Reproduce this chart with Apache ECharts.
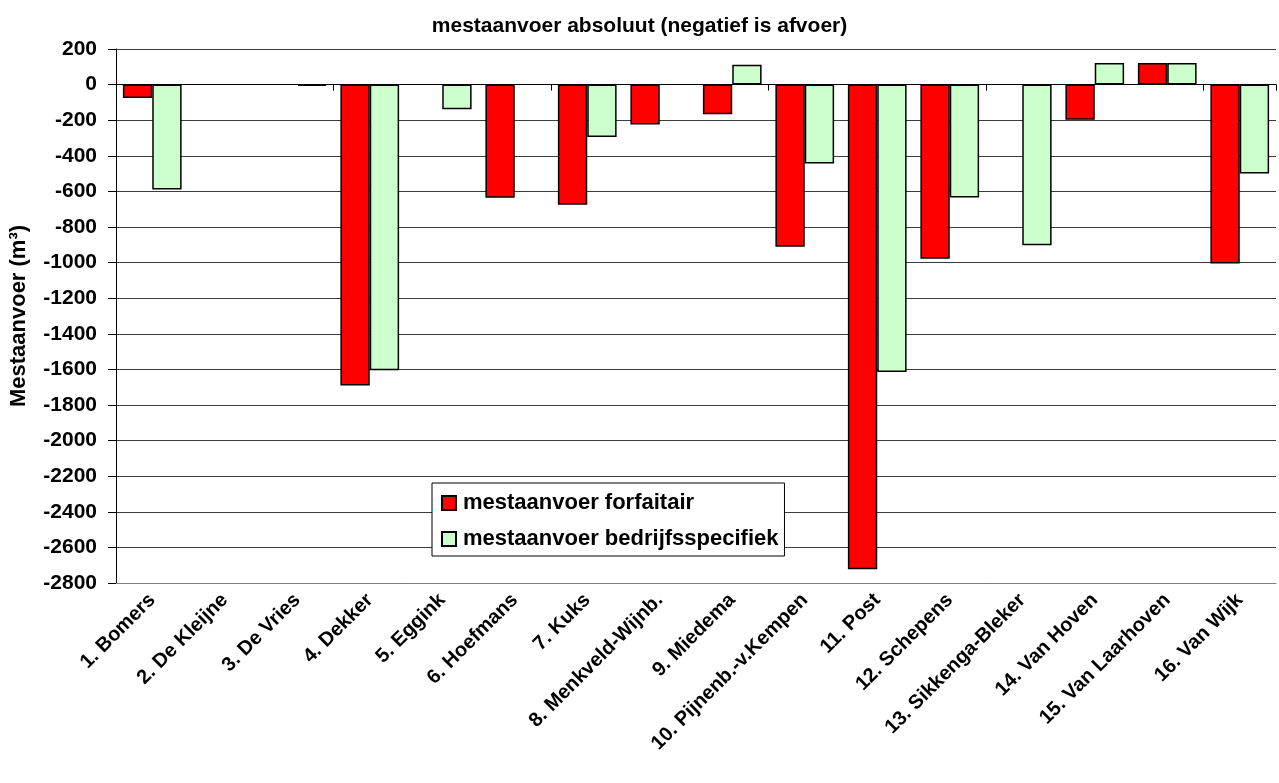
<!DOCTYPE html>
<html>
<head>
<meta charset="utf-8">
<script src="https://cdn.jsdelivr.net/npm/echarts@6/dist/echarts.min.js"></script>
<style>
  html, body { margin: 0; padding: 0; background: #fff; }
  #chart { width: 1279px; height: 783px; }
</style>
</head>
<body>
<div id="chart"></div>
<script>
  // bedrijven
  var categories = ['1. Bomers', '2. De Kleijne', '3. De Vries', '4. Dekker', '5. Eggink',
    '6. Hoefmans', '7. Kuks', '8. Menkveld-Wijnb.', '9. Miedema', '10. Pijnenb.-v.Kempen',
    '11. Post', '12. Schepens', '13. Sikkenga-Bleker', '14. Van Hoven', '15. Van Laarhoven', '16. Van Wijk']
  // mestaanvoer in m3, negatief is afvoer (null = geen staaf)
  var forfaitair = [-75, null, null, -1690, null, -636, -675, -224, -167, -911, -2723, -978, null, -198, 121, -1005]
  var bedrijfsspecifiek = [-590, null, -8, -1605, -138, null, -295, null, 112, -443, -1615, -634, -903, 121, 121, -499]
  var yMin = -2800, yMax = 200, yStep = 200

  var font = 'Liberation Sans, Arial, sans-serif'
  var chart = echarts.init(document.getElementById('chart'))

  chart.setOption({
    animation: false,
    title: {
      text: 'mestaanvoer absoluut (negatief is afvoer)',
      left: 'center',
      top: 11,
      textStyle: {fontFamily: font, fontSize: 21, fontWeight: 'bold', color: '#000'}
    },
    legend: {
      orient: 'vertical',
      left: 432,
      top: 483,
      padding: [9, 6, 6, 9],
      itemGap: 14,
      itemWidth: 14,
      itemHeight: 14,
      icon: 'rect',
      backgroundColor: '#fff',
      borderColor: '#000',
      borderWidth: 1,
      data: ['mestaanvoer forfaitair', 'mestaanvoer bedrijfsspecifiek'],
      textStyle: {fontFamily: font, fontSize: 22, fontWeight: 'bold', color: '#000', padding: [0, 0, 0, 2]}
    },
    grid: {left: 116, right: 3, top: 49, bottom: 200},
    xAxis: [
      {
        // labels onderaan
        type: 'category',
        data: categories,
        position: 'bottom',
        axisLine: {onZero: false, lineStyle: {color: '#808080', width: 1}},
        axisTick: {show: false},
        axisLabel: {
          rotate: 45,
          interval: 0,
          margin: 14,
          fontFamily: font,
          fontSize: 20,
          fontWeight: 'bold',
          color: '#000'
        }
      },
      {
        // nullijn met streepjes
        type: 'category',
        data: categories,
        position: 'bottom',
        axisLine: {onZero: true, lineStyle: {color: '#000', width: 1}},
        axisTick: {show: true, length: 6, lineStyle: {color: '#000'}},
        axisLabel: {show: false}
      }
    ],
    yAxis: {
      type: 'value',
      min: yMin,
      max: yMax,
      interval: yStep,
      name: 'Mestaanvoer (m³)',
      nameLocation: 'middle',
      nameGap: 86,
      nameTextStyle: {fontFamily: font, fontSize: 22, fontWeight: 'bold', color: '#000'},
      axisLine: {show: true, lineStyle: {color: '#000', width: 1}},
      axisTick: {show: true, length: 8, lineStyle: {color: '#000'}},
      axisLabel: {
        margin: 19,
        fontFamily: font,
        fontSize: 21,
        fontWeight: 'bold',
        color: '#000',
        formatter: function (v) { return String(v) }
      },
      splitLine: {show: true, lineStyle: {color: '#3c3c3c', width: 1}}
    },
    series: [
      {
        name: 'mestaanvoer forfaitair',
        type: 'bar',
        data: forfaitair,
        barGap: '0%',
        barCategoryGap: '19%',
        itemStyle: {color: '#ff0000', borderColor: '#000', borderWidth: 1.5}
      },
      {
        name: 'mestaanvoer bedrijfsspecifiek',
        type: 'bar',
        data: bedrijfsspecifiek,
        barGap: '0%',
        barCategoryGap: '19%',
        itemStyle: {color: '#ccffcc', borderColor: '#000', borderWidth: 1.5}
      }
    ]
  })
</script>
</body>
</html>
